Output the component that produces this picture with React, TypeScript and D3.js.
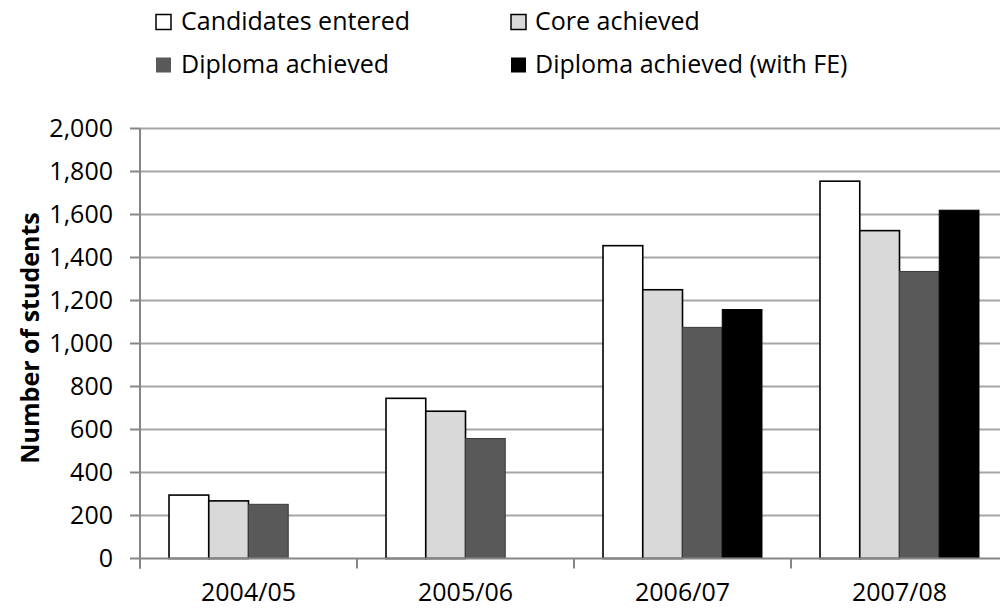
import React from "react";
import * as d3 from "d3";

const categories = ["2004/05", "2005/06", "2006/07", "2007/08"];
const seriesNames = [
  "Candidates entered",
  "Core achieved",
  "Diploma achieved",
  "Diploma achieved (with FE)",
];
const candidatesEntered = [295, 745, 1455, 1755];
const coreAchieved = [268, 685, 1250, 1525];
const diplomaAchieved = [252, 558, 1075, 1335];
const diplomaAchievedFE: (number | null)[] = [null, null, 1158, 1620];
const yTicks = [0, 200, 400, 600, 800, 1000, 1200, 1400, 1600, 1800, 2000];

const seriesValues: (number | null)[][] = [
  candidatesEntered,
  coreAchieved,
  diplomaAchieved,
  diplomaAchievedFE,
];
const fills = ["#ffffff", "#d9d9d9", "#595959", "#000000"];
const strokes = ["#000000", "#000000", "#3a3a3a", "#000000"];

const FONT = "'Open Sans', 'Noto Sans', sans-serif";

export default function App() {
  const W = 1000;
  const H = 610;
  const left = 140;
  const band = 217;
  const x0 = d3
    .scaleBand<string>()
    .domain(categories)
    .range([left, left + band * categories.length])
    .paddingInner(0)
    .paddingOuter(0);
  const x1 = d3
    .scaleBand<string>()
    .domain(seriesNames)
    .range([0, x0.bandwidth()])
    .paddingInner(0)
    .paddingOuter(0.73);
  const y = d3.scaleLinear().domain([0, 2000]).range([558.5, 128.5]);
  const fmt = d3.format(",");
  const right = left + band * categories.length;
  const xTickPositions = categories.map((c) => x0(c)!).concat([right]);

  const legendItems = [
    { i: 0, sx: 156, tx: 181, row: 0 },
    { i: 1, sx: 511, tx: 535, row: 0 },
    { i: 2, sx: 156, tx: 181, row: 1 },
    { i: 3, sx: 511, tx: 535, row: 1 },
  ];
  const rowBase = [30, 73];

  return (
    <div style={{ position: "absolute", left: 0, top: 0 }}>
      <svg width={W} height={H} style={{ display: "block", background: "#fff" }}>
        <rect x={0} y={0} width={W} height={H} fill="#fff" />
        {/* gridlines */}
        {yTicks
          .filter((t) => t > 0)
          .map((t) => (
            <line
              key={"g" + t}
              x1={left}
              x2={right}
              y1={y(t)}
              y2={y(t)}
              stroke="#a6a6a6"
              strokeWidth={2}
            />
          ))}
        {/* y tick marks */}
        {yTicks.map((t) => (
          <line
            key={"yt" + t}
            x1={130}
            x2={left}
            y1={y(t)}
            y2={y(t)}
            stroke="#868686"
            strokeWidth={2}
          />
        ))}
        {/* y tick labels */}
        {yTicks.map((t) => (
          <text
            key={"yl" + t}
            x={113}
            y={y(t) + 8.5}
            textAnchor="end"
            fontFamily={FONT}
            fontSize={25}
            fill="#000"
          >
            {fmt(t)}
          </text>
        ))}
        {/* bars */}
        {categories.map((c, ci) =>
          seriesNames.map((s, si) => {
            const v = seriesValues[si][ci];
            if (v == null) return null;
            const bx = x0(c)! + x1(s)!;
            return (
              <rect
                key={c + s}
                x={bx}
                y={y(v)}
                width={x1.bandwidth()}
                height={y(0) - y(v)}
                fill={fills[si]}
                stroke={strokes[si]}
                strokeWidth={si < 2 ? 1.6 : 1}
              />
            );
          })
        )}
        {/* axes */}
        <line x1={left} x2={left} y1={y(2000)} y2={y(0) + 10} stroke="#868686" strokeWidth={2} />
        <line x1={left} x2={right} y1={y(0)} y2={y(0)} stroke="#868686" strokeWidth={2.2} />
        {xTickPositions.map((px, i) => (
          <line
            key={"xt" + i}
            x1={px}
            x2={px}
            y1={y(0)}
            y2={y(0) + 10}
            stroke="#868686"
            strokeWidth={2}
          />
        ))}
        {categories.map((c) => (
          <text
            key={"xl" + c}
            x={x0(c)! + x0.bandwidth() / 2}
            y={601}
            textAnchor="middle"
            fontFamily={FONT}
            fontSize={25}
            fill="#000"
          >
            {c}
          </text>
        ))}
        {/* y axis title */}
        <text
          transform={`translate(39, 338) rotate(-90)`}
          textAnchor="middle"
          fontFamily={FONT}
          fontSize={25}
          fontWeight="bold"
          fill="#000"
        >
          Number of students
        </text>
        {/* legend */}
        {legendItems.map((it) => (
          <g key={"lg" + it.i}>
            <rect
              x={it.sx}
              y={rowBase[it.row] - 15.5}
              width={15}
              height={15}
              fill={fills[it.i]}
              stroke={it.i < 2 ? "#000" : "none"}
              strokeWidth={1.5}
            />
            <text
              x={it.tx}
              y={rowBase[it.row]}
              fontFamily={FONT}
              fontSize={25}
              fill="#000"
            >
              {seriesNames[it.i]}
            </text>
          </g>
        ))}
      </svg>
    </div>
  );
}
